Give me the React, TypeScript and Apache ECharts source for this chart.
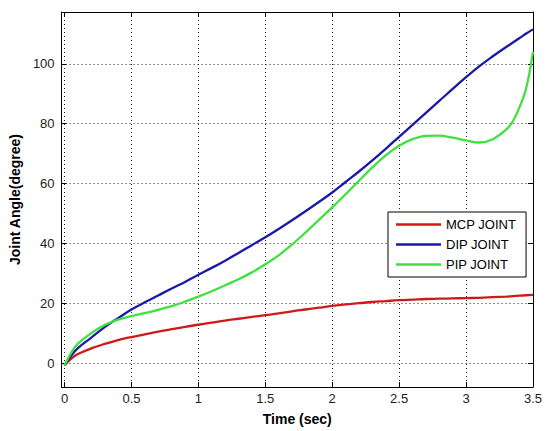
import React, { useEffect, useRef } from "react";
import * as echarts from "echarts";

const times = [0, 0.05, 0.1, 0.2, 0.3, 0.4, 0.5, 0.6, 0.7, 0.8, 0.9, 1.0, 1.1, 1.2, 1.3, 1.4, 1.5, 1.6, 1.7, 1.8, 1.9, 2.0, 2.1, 2.2, 2.3, 2.4, 2.5, 2.6, 2.7, 2.8, 2.9, 3.0, 3.1, 3.2, 3.3, 3.35, 3.4, 3.45, 3.5];

const mcp = [-0.8, 1.5, 3, 4.9, 6.4, 7.7, 8.7, 9.6, 10.5, 11.3, 12.1, 12.8, 13.5, 14.2, 14.8, 15.4, 16.0, 16.6, 17.3, 17.9, 18.5, 19.1, 19.6, 20.0, 20.4, 20.7, 21.0, 21.2, 21.4, 21.5, 21.6, 21.7, 21.8, 22.0, 22.2, 22.35, 22.5, 22.65, 22.8];

const dip = [-0.8, 2.5, 5, 8.5, 12, 15, 17.9, 20.3, 22.6, 24.9, 27.1, 29.5, 31.8, 34.2, 36.8, 39.4, 42.0, 44.8, 47.7, 50.7, 53.8, 57, 60.5, 64.0, 67.7, 71.6, 75.6, 79.6, 83.6, 87.6, 91.6, 95.5, 99.2, 102.5, 105.6, 107.1, 108.6, 110.1, 111.5];

const pip = [-0.8, 3.5, 6.5, 10, 12.7, 14.5, 15.7, 16.7, 17.8, 19.0, 20.5, 22.2, 24.0, 26.0, 28.0, 30.3, 33.0, 36.0, 39.6, 43.6, 47.8, 52.0, 56.4, 60.9, 65.4, 69.4, 72.6, 74.8, 75.9, 76.0, 75.3, 74.4, 73.7, 74.8, 78, 80.8, 85.5, 92, 104];

const xTicks = [0, 0.5, 1, 1.5, 2, 2.5, 3, 3.5];
const yTicks = [0, 20, 40, 60, 80, 100];

const seriesNames = ["MCP JOINT", "DIP JOINT", "PIP JOINT"];
const seriesColors = ["#d01a1a", "#1a1aa6", "#3ee23e"];

export default function App() {
  const ref = useRef<HTMLDivElement>(null);
  useEffect(() => {
    if (!ref.current) return;
    const chart = echarts.init(ref.current, undefined, { renderer: "svg" });
    const font = "'Liberation Sans', Arial, sans-serif";
    const values = [mcp, dip, pip];
    const xMin = -0.022;
    const xMax = 3.5;
    const yMin = -8;
    const yMax = 117.3;
    const axisLine = { show: true, onZero: false, lineStyle: { color: "#000", width: 1 } };
    const tickStyle = { color: "#000", width: 1 };
    chart.setOption({
      animation: false,
      backgroundColor: "#fff",
      grid: { left: 61, right: 7, top: 12, bottom: 43 },
      legend: {
        orient: "vertical",
        left: 388,
        top: 212,
        padding: [6, 10, 6, 8],
        itemWidth: 45,
        itemHeight: 14,
        itemGap: 7,
        icon: "path://M0,0 L45,0 L45,2.4 L0,2.4 Z",
        borderColor: "#000",
        borderWidth: 1,
        backgroundColor: "#fff",
        textStyle: { fontSize: 13, color: "#000", fontFamily: font },
        data: seriesNames,
      },
      xAxis: [
        {
          type: "value",
          min: xMin,
          max: xMax,
          position: "bottom",
          name: "Time (sec)",
          nameLocation: "middle",
          nameGap: 25,
          nameTextStyle: { fontSize: 14, fontWeight: "bold", color: "#000", fontFamily: font },
          axisLine,
          axisTick: { show: true, inside: true, length: 5, lineStyle: tickStyle, customValues: xTicks },
          axisLabel: { show: true, margin: 5, fontSize: 13, color: "#222", fontFamily: font, customValues: xTicks },
          splitLine: { show: true, lineStyle: { color: "#222", type: [1, 3], width: 1 } },
        },
        {
          type: "value",
          min: xMin,
          max: xMax,
          position: "top",
          axisLine,
          axisTick: { show: true, inside: true, length: 5, lineStyle: tickStyle, customValues: xTicks },
          axisLabel: { show: false },
          splitLine: { show: false },
        },
      ],
      yAxis: [
        {
          type: "value",
          min: yMin,
          max: yMax,
          position: "left",
          name: "Joint Angle(degree)",
          nameLocation: "middle",
          nameGap: 36,
          nameTextStyle: { fontSize: 14, fontWeight: "bold", color: "#000", fontFamily: font },
          axisLine,
          axisTick: { show: true, inside: true, length: 5, lineStyle: tickStyle, customValues: yTicks },
          axisLabel: { show: true, margin: 7, fontSize: 13, color: "#222", fontFamily: font, customValues: yTicks },
          splitLine: { show: true, lineStyle: { color: "#222", type: [1, 3], width: 1 } },
        },
        {
          type: "value",
          min: yMin,
          max: yMax,
          position: "right",
          axisLine,
          axisTick: { show: true, inside: true, length: 5, lineStyle: tickStyle, customValues: yTicks },
          axisLabel: { show: false },
          splitLine: { show: false },
        },
      ],
      series: seriesNames.map((name, i) => ({
        name,
        type: "line",
        xAxisIndex: 0,
        yAxisIndex: 0,
        smooth: 0.4,
        symbol: "none",
        color: seriesColors[i],
        itemStyle: { color: seriesColors[i] },
        lineStyle: { width: 2.3, color: seriesColors[i] },
        data: times.map((t, j) => [t, values[i][j]]),
      })),
    });
    return () => chart.dispose();
  }, []);
  return (
    <div
      ref={ref}
      style={{ position: "absolute", left: 0, top: 0, width: 545, height: 431 }}
    />
  );
}
